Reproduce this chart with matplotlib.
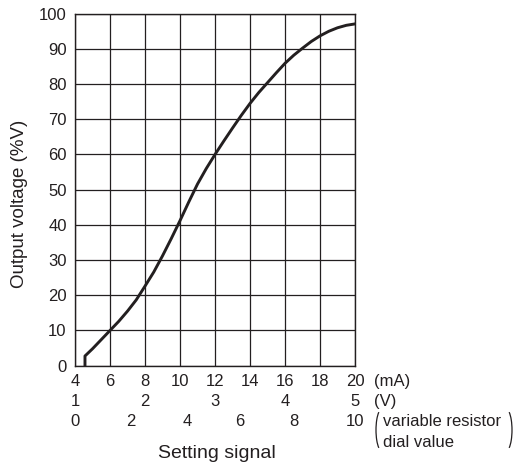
import matplotlib
matplotlib.use("Agg")
import matplotlib.pyplot as plt
from matplotlib.patches import Arc


# curve (setting signal in mA, output in %V)
signal_ma = [4.57, 4.57, 5.0, 5.5, 6.0, 6.5, 7.0, 7.5, 8.0, 8.5, 9.0, 9.5,
             10.0, 10.5, 11.0, 11.5, 12.0, 12.5, 13.0, 13.5, 14.0, 14.5,
             15.0, 15.5, 16.0, 16.5, 17.0, 17.5, 18.0, 18.5, 19.0, 19.5, 20.0]
output_pct = [0.0, 2.75, 4.8, 7.4, 10.0, 12.6, 15.5, 18.7, 22.6, 26.6, 31.2, 36.1,
              41.2, 46.5, 51.6, 56.0, 60.0, 63.8, 67.5, 71.1, 74.5, 77.6,
              80.4, 83.2, 85.9, 88.2, 90.2, 92.1, 93.7, 95.0, 96.0, 96.7, 97.1]

ma_ticks = [4, 6, 8, 10, 12, 14, 16, 18, 20]
volt_labels = ["1", "2", "3", "4", "5"]
volt_pos = [4, 8, 12, 16, 20]
dial_labels = ["0", "2", "4", "6", "8", "10"]
dial_pos = [4, 7.2, 10.4, 13.4, 16.5, 20]
y_ticks = [0, 10, 20, 30, 40, 50, 60, 70, 80, 90, 100]

INK = "#231f20"
plt.rcParams["font.family"] = ["Liberation Sans", "DejaVu Sans"]

fig = plt.figure(figsize=(5.26, 4.63), dpi=100)
ax = fig.add_axes([0.1426, 0.2102, 0.5323, 0.7602])

ax.plot(signal_ma, output_pct, color=INK, lw=2.1, solid_joinstyle="round")

ax.set_xlim(4, 20)
ax.set_ylim(0, 100)
ax.set_xticks(ma_ticks)
ax.set_yticks(y_ticks)
ax.set_xticklabels([])
ax.grid(True, color=INK, lw=0.9)
ax.tick_params(length=0, labelsize=12, pad=6, colors=INK)
for s in ax.spines.values():
    s.set_color(INK)
    s.set_linewidth(1.0)

fig.text(20 / 526, 1 - 204 / 463, "Output voltage (%V)", rotation=90,
         ha="center", va="center", fontsize=13.5, color=INK)

tr = ax.get_xaxis_transform()
for m in ma_ticks:
    ax.text(m, -0.046, str(m), transform=tr, ha="center", va="center",
            fontsize=12, color=INK)
for v, lab in zip(volt_pos, volt_labels):
    ax.text(v, -0.102, lab, transform=tr, ha="center", va="center",
            fontsize=12, color=INK)
for d, lab in zip(dial_pos, dial_labels):
    ax.text(d, -0.16, lab, transform=tr, ha="center", va="center",
            fontsize=12, color=INK)

ax.text(21.1, -0.046, "(mA)", transform=tr, ha="left", va="center", fontsize=12, color=INK)
ax.text(21.1, -0.102, "(V)", transform=tr, ha="left", va="center", fontsize=12, color=INK)
ax.text(21.6, -0.16, "variable resistor", transform=tr, ha="left", va="center",
        fontsize=12, color=INK)
ax.text(21.6, -0.218, "dial value", transform=tr, ha="left", va="center",
        fontsize=12, color=INK)
fig.text(217 / 526, 1 - 453 / 463, "Setting signal", ha="center", va="center",
         fontsize=14, color=INK)

# the big bracket around the dial label
inch = fig.dpi_scale_trans
fig.patches.append(Arc((3.82, 0.33), 0.12, 0.42, theta1=100, theta2=260,
                       transform=inch, color=INK, lw=0.9))
fig.patches.append(Arc((5.06, 0.33), 0.12, 0.42, theta1=-80, theta2=80,
                       transform=inch, color=INK, lw=0.9))

fig.savefig("out.png", dpi=100)
